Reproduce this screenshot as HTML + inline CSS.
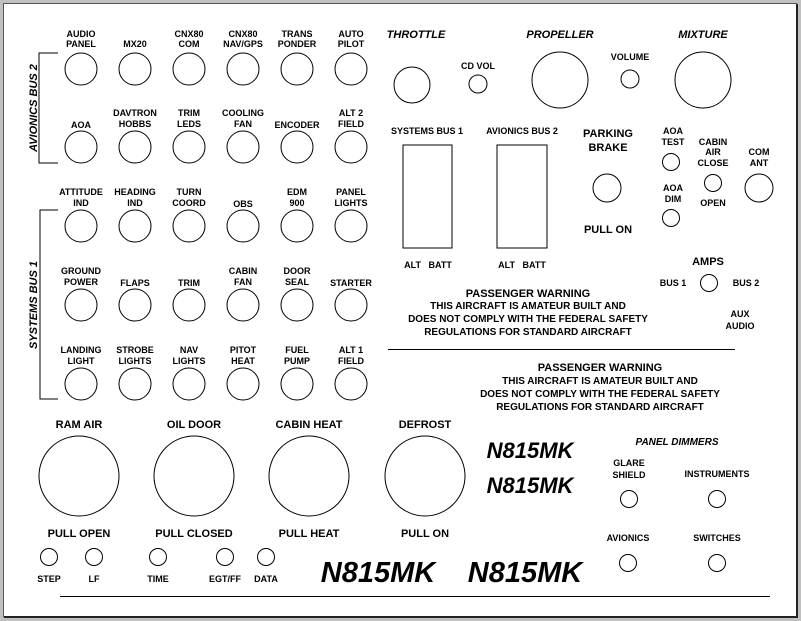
<!DOCTYPE html>
<html><head><style>
html,body{margin:0;padding:0;background:#fff}
svg{display:block}
text{font-family:"Liberation Sans",sans-serif;font-weight:bold;fill:#000;text-anchor:middle}
.s{font-size:9px}
.m{font-size:11px}
.l{font-size:13px}
.i{font-style:italic}
circle,ellipse,rect.b{fill:none;stroke:#000;stroke-width:1}
</style></head><body>
<svg width="801" height="621" viewBox="0 0 801 621">
<rect x="0" y="0" width="801" height="621" fill="#c0c0c0"/>
<rect x="3.5" y="3.5" width="793" height="613" fill="#fff" stroke="#555" stroke-width="1"/>
<line x1="797" y1="4" x2="797" y2="618" stroke="#222" stroke-width="2"/>
<line x1="4" y1="617" x2="798" y2="617" stroke="#222" stroke-width="2"/>

<!-- brackets -->
<polyline points="58,53 39,53 39,163 58,163" fill="none" stroke="#000"/>
<polyline points="58,210 40,210 40,399 58,399" fill="none" stroke="#000"/>
<text class="m i" transform="translate(33,108) rotate(-90)" dy="4">AVIONICS BUS 2</text>
<text class="m i" transform="translate(33,305) rotate(-90)" dy="4">SYSTEMS BUS 1</text>

<!-- row 1 -->
<g class="s">
<text x="81" y="37">AUDIO</text><text x="81" y="47">PANEL</text>
<text x="135" y="47">MX20</text>
<text x="189" y="37">CNX80</text><text x="189" y="47">COM</text>
<text x="243" y="37">CNX80</text><text x="243" y="47">NAV/GPS</text>
<text x="297" y="37">TRANS</text><text x="297" y="47">PONDER</text>
<text x="351" y="37">AUTO</text><text x="351" y="47">PILOT</text>
<text x="81" y="128">AOA</text>
<text x="135" y="116">DAVTRON</text><text x="135" y="127">HOBBS</text>
<text x="189" y="116">TRIM</text><text x="189" y="127">LEDS</text>
<text x="243" y="116">COOLING</text><text x="243" y="127">FAN</text>
<text x="297" y="128">ENCODER</text>
<text x="351" y="116">ALT 2</text><text x="351" y="127">FIELD</text>
<text x="81" y="195">ATTITUDE</text><text x="81" y="206">IND</text>
<text x="135" y="195">HEADING</text><text x="135" y="206">IND</text>
<text x="189" y="195">TURN</text><text x="189" y="206">COORD</text>
<text x="243" y="207">OBS</text>
<text x="297" y="195">EDM</text><text x="297" y="206">900</text>
<text x="351" y="195">PANEL</text><text x="351" y="206">LIGHTS</text>
<text x="81" y="274">GROUND</text><text x="81" y="285">POWER</text>
<text x="135" y="286">FLAPS</text>
<text x="189" y="286">TRIM</text>
<text x="243" y="274">CABIN</text><text x="243" y="285">FAN</text>
<text x="297" y="274">DOOR</text><text x="297" y="285">SEAL</text>
<text x="351" y="286">STARTER</text>
<text x="81" y="353">LANDING</text><text x="81" y="364">LIGHT</text>
<text x="135" y="353">STROBE</text><text x="135" y="364">LIGHTS</text>
<text x="189" y="353">NAV</text><text x="189" y="364">LIGHTS</text>
<text x="243" y="353">PITOT</text><text x="243" y="364">HEAT</text>
<text x="297" y="353">FUEL</text><text x="297" y="364">PUMP</text>
<text x="351" y="353">ALT 1</text><text x="351" y="364">FIELD</text>
</g>
<g>
<circle cx="81" cy="69" r="16"/><circle cx="135" cy="69" r="16"/><circle cx="189" cy="69" r="16"/><circle cx="243" cy="69" r="16"/><circle cx="297" cy="69" r="16"/><circle cx="351" cy="69" r="16"/>
<circle cx="81" cy="147" r="16"/><circle cx="135" cy="147" r="16"/><circle cx="189" cy="147" r="16"/><circle cx="243" cy="147" r="16"/><circle cx="297" cy="147" r="16"/><circle cx="351" cy="147" r="16"/>
<circle cx="81" cy="226" r="16"/><circle cx="135" cy="226" r="16"/><circle cx="189" cy="226" r="16"/><circle cx="243" cy="226" r="16"/><circle cx="297" cy="226" r="16"/><circle cx="351" cy="226" r="16"/>
<circle cx="81" cy="305" r="16"/><circle cx="135" cy="305" r="16"/><circle cx="189" cy="305" r="16"/><circle cx="243" cy="305" r="16"/><circle cx="297" cy="305" r="16"/><circle cx="351" cy="305" r="16"/>
<circle cx="81" cy="384" r="16"/><circle cx="135" cy="384" r="16"/><circle cx="189" cy="384" r="16"/><circle cx="243" cy="384" r="16"/><circle cx="297" cy="384" r="16"/><circle cx="351" cy="384" r="16"/>
</g>

<!-- top right -->
<text class="m i" x="416" y="38">THROTTLE</text>
<circle cx="412" cy="85" r="18"/>
<text class="s" x="478" y="69">CD VOL</text>
<circle cx="478" cy="84" r="9"/>
<text class="m i" x="560" y="38">PROPELLER</text>
<circle cx="560" cy="80" r="28"/>
<text class="s" x="630" y="60">VOLUME</text>
<circle cx="630" cy="79" r="9"/>
<text class="m i" x="703" y="38">MIXTURE</text>
<circle cx="703" cy="80" r="28"/>

<text class="s" x="427" y="134">SYSTEMS BUS 1</text>
<text class="s" x="522" y="134">AVIONICS BUS 2</text>
<rect class="b" x="403" y="145" width="49" height="103"/>
<rect class="b" x="497" y="145" width="50" height="103"/>
<text class="s" x="428" y="268">ALT&#160;&#160; BATT</text>
<text class="s" x="522" y="268">ALT&#160;&#160; BATT</text>
<text class="m" x="608" y="137">PARKING</text><text class="m" x="608" y="151">BRAKE</text>
<circle cx="607" cy="188" r="14"/>
<text class="m" x="608" y="233">PULL ON</text>
<text class="s" x="673" y="134">AOA</text><text class="s" x="673" y="145">TEST</text>
<circle cx="671" cy="162" r="8.5"/>
<text class="s" x="673" y="191">AOA</text><text class="s" x="673" y="202">DIM</text>
<circle cx="671" cy="218" r="8.5"/>
<text class="s" x="713" y="145">CABIN</text><text class="s" x="713" y="155">AIR</text><text class="s" x="713" y="166">CLOSE</text>
<circle cx="713" cy="183" r="8.5"/>
<text class="s" x="713" y="206">OPEN</text>
<text class="s" x="759" y="155">COM</text><text class="s" x="759" y="166">ANT</text>
<circle cx="759" cy="188" r="14"/>
<text class="m" x="708" y="265">AMPS</text>
<text class="s" x="673" y="286">BUS 1</text>
<circle cx="709" cy="283" r="8.5"/>
<text class="s" x="746" y="286">BUS 2</text>
<text class="s" x="740" y="317">AUX</text><text class="s" x="740" y="329">AUDIO</text>

<text class="m" x="528" y="297">PASSENGER WARNING</text>
<text class="s" x="528" y="309" style="font-size:10px">THIS AIRCRAFT IS AMATEUR BUILT AND</text>
<text class="s" x="528" y="322" style="font-size:10px">DOES NOT COMPLY WITH THE FEDERAL SAFETY</text>
<text class="s" x="528" y="335" style="font-size:10px">REGULATIONS FOR STANDARD AIRCRAFT</text>
<line x1="388" y1="349.5" x2="735" y2="349.5" stroke="#000"/>
<text class="m" x="600" y="371">PASSENGER WARNING</text>
<text class="s" x="600" y="384" style="font-size:10px">THIS AIRCRAFT IS AMATEUR BUILT AND</text>
<text class="s" x="600" y="397" style="font-size:10px">DOES NOT COMPLY WITH THE FEDERAL SAFETY</text>
<text class="s" x="600" y="410" style="font-size:10px">REGULATIONS FOR STANDARD AIRCRAFT</text>

<!-- bottom -->
<text class="m" x="79" y="428">RAM AIR</text>
<text class="m" x="194" y="428">OIL DOOR</text>
<text class="m" x="309" y="428">CABIN HEAT</text>
<text class="m" x="425" y="428">DEFROST</text>
<circle cx="79" cy="476" r="40"/>
<circle cx="194" cy="476" r="40"/>
<circle cx="309" cy="476" r="40"/>
<circle cx="425" cy="476" r="40"/>
<text class="m" x="79" y="537">PULL OPEN</text>
<text class="m" x="194" y="537">PULL CLOSED</text>
<text class="m" x="309" y="537">PULL HEAT</text>
<text class="m" x="425" y="537">PULL ON</text>
<circle cx="49" cy="557" r="8.5"/><circle cx="94" cy="557" r="8.5"/><circle cx="158" cy="557" r="8.5"/><circle cx="225" cy="557" r="8.5"/><circle cx="266" cy="557" r="8.5"/>
<text class="s" x="49" y="582">STEP</text><text class="s" x="94" y="582">LF</text><text class="s" x="158" y="582">TIME</text><text class="s" x="225" y="582">EGT/FF</text><text class="s" x="266" y="582">DATA</text>
<text class="i" x="530" y="458" style="font-size:22px">N815MK</text>
<text class="i" x="530" y="493" style="font-size:22px">N815MK</text>
<text class="i" x="378" y="582" style="font-size:29px">N815MK</text>
<text class="i" x="525" y="582" style="font-size:29px">N815MK</text>
<text class="s i" x="677" y="445" style="font-size:10px">PANEL DIMMERS</text>
<text class="s" x="629" y="466">GLARE</text><text class="s" x="629" y="478">SHIELD</text>
<circle cx="629" cy="499" r="8.5"/>
<text class="s" x="717" y="477">INSTRUMENTS</text>
<circle cx="717" cy="499" r="8.5"/>
<text class="s" x="628" y="541">AVIONICS</text>
<circle cx="628" cy="563" r="8.5"/>
<text class="s" x="717" y="541">SWITCHES</text>
<circle cx="717" cy="563" r="8.5"/>
<line x1="60" y1="596.5" x2="770" y2="596.5" stroke="#000"/>
</svg>
</body></html>
